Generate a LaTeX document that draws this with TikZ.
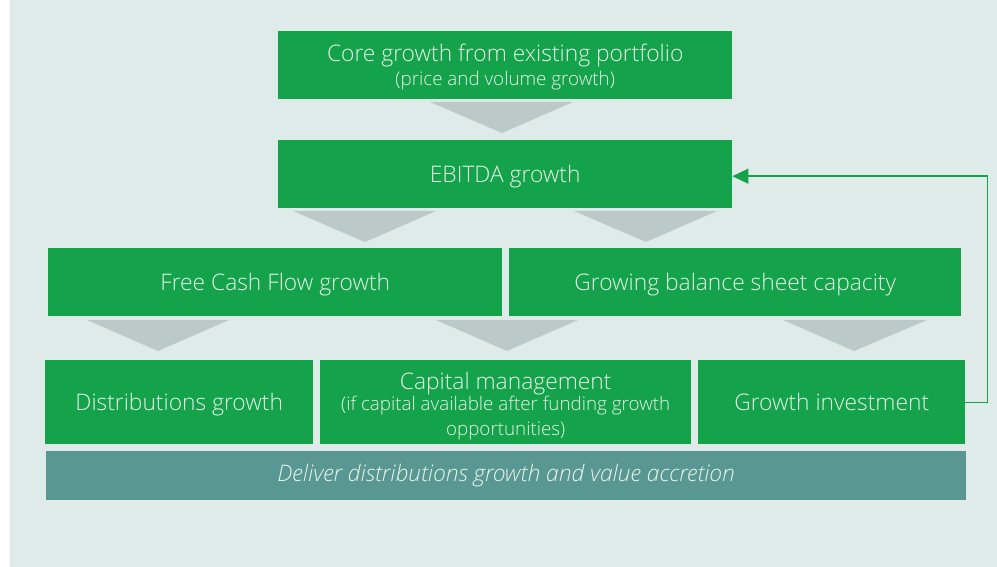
\documentclass[tikz,border=0pt]{standalone}
\usepackage{fontspec}
\setmainfont{Open Sans Light}
\usetikzlibrary{arrows.meta}
\definecolor{bgpanel}{HTML}{DFEBE9}
\definecolor{boxgreen}{HTML}{14A24A}
\definecolor{chevron}{HTML}{BBC9C8}
\definecolor{barteal}{HTML}{599892}
\definecolor{boxtext}{HTML}{E6F4EA}
\tikzset{
  box/.style={fill=boxgreen, text=boxtext, inner sep=0pt, anchor=north west,
    font=\fontsize{22.8}{27}\selectfont, align=center,
    execute at begin node=\rule[-5.5pt]{0pt}{27.5pt}},
  bar/.style={fill=barteal, text=boxtext, inner sep=0pt, anchor=north west,
    font=\fontsize{22.8}{27}\selectfont\itshape},
  chev/.style={fill=chevron},
  loop/.style={draw=boxgreen, line width=1.4pt, -{Triangle[length=16pt,width=15pt]}}
}
\newcommand{\subline}[1]{{\fontsize{18.8}{23}\selectfont #1}}
\begin{document}
\begin{tikzpicture}[x=1pt,y=-1pt]
\useasboundingbox (0,0) rectangle (997,567);
\fill[bgpanel] (10,0) rectangle (997,567);

% top row
\node[box, minimum width=454pt, minimum height=68pt] (core) at (278,31)
  {\rule{0pt}{22pt}Core growth from existing portfolio\\[-3pt]\subline{(price and volume growth)}};
\node[box, minimum width=454pt, minimum height=68pt] (ebitda) at (278,140) {EBITDA growth};

% middle row
\node[box, minimum width=454pt, minimum height=68pt] (fcf) at (48,248) {Free Cash Flow growth};
\node[box, minimum width=452pt, minimum height=68pt] (bsc) at (509,248) {Growing balance sheet capacity};

% lower row
\node[box, minimum width=268pt, minimum height=84pt] (dist) at (45,360) {Distributions growth};
\node[box, minimum width=371pt, minimum height=84pt] (cap) at (320,360)
  {\rule{0pt}{26pt}Capital management\\[-6pt]\subline{(if capital available after funding growth}\\[-2pt]\subline{opportunities)}};
\node[box, minimum width=267pt, minimum height=84pt] (ginv) at (698,360) {Growth investment};

% outcome bar
\node[bar, minimum width=920pt, minimum height=49pt] (deliver) at (46,451)
  {Deliver distributions growth and value accretion};

% chevrons between tiers
\fill[chev] (430,102) -- (573,102) -- (502,133) -- cycle;
\fill[chev] (293,211) -- (436,211) -- (365,242) -- cycle;
\fill[chev] (574,211) -- (717,211) -- (646,242) -- cycle;
\fill[chev] (87,320) -- (229,320) -- (158,351) -- cycle;
\fill[chev] (436,320) -- (578,320) -- (507,351) -- cycle;
\fill[chev] (783,320) -- (927,320) -- (854,351) -- cycle;

% reinvestment loop
\draw[loop] (ginv.east) -- ++(22,0) |- ([yshift=-2pt]ebitda.east);
\end{tikzpicture}
\end{document}
